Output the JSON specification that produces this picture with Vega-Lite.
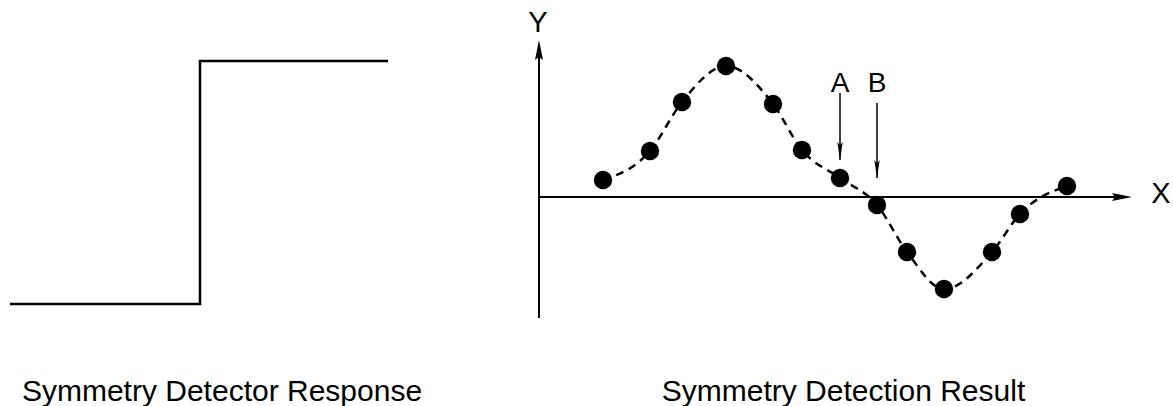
{
  "$schema": "https://vega.github.io/schema/vega-lite/v6.json",
  "padding": 0,
  "spacing": 60,
  "bounds": "flush",
  "background": "white",
  "config": {
    "view": {"stroke": null},
    "font": "Liberation Sans",
    "title": {"font": "Liberation Sans", "fontSize": 30, "fontWeight": "normal", "color": "black"}
  },
  "datasets": {
    "response": [
      {"step": 1, "position": 0.25, "response": 0},
      {"step": 2, "position": 5, "response": 0},
      {"step": 3, "position": 5, "response": 1},
      {"step": 4, "position": 9.7, "response": 1}
    ],
    "result": [
      {"x": 1.6, "y": 0.425},
      {"x": 2.775, "y": 1.15},
      {"x": 3.575, "y": 2.375},
      {"x": 4.675, "y": 3.275},
      {"x": 5.85, "y": 2.325},
      {"x": 6.575, "y": 1.175},
      {"x": 7.525, "y": 0.475},
      {"x": 8.45, "y": -0.2},
      {"x": 9.2, "y": -1.375},
      {"x": 10.125, "y": -2.3},
      {"x": 11.325, "y": -1.375},
      {"x": 12.025, "y": -0.425},
      {"x": 13.2, "y": 0.275}
    ],
    "markers": [
      {"label": "A", "x": 7.525, "y_label": 2.625, "y_top": 2.6, "y_tip": 0.925},
      {"label": "B", "x": 8.45, "y_label": 2.625, "y_top": 2.35, "y_tip": 0.475}
    ],
    "single": [{}]
  },
  "hconcat": [
    {
      "width": 440,
      "height": 340,
      "title": {"text": "Symmetry Detector Response", "orient": "bottom", "anchor": "middle", "baseline": "alphabetic", "offset": 61, "dx": 2},
      "data": {"name": "response"},
      "mark": {"type": "line", "color": "black", "strokeWidth": 2.5},
      "encoding": {
        "x": {"field": "position", "type": "quantitative", "scale": {"domain": [0, 11], "nice": false, "zero": false}, "axis": null},
        "y": {"field": "response", "type": "quantitative", "scale": {"domain": [-0.148, 1.251], "nice": false, "zero": false}, "axis": null},
        "order": {"field": "step"}
      }
    },
    {
      "width": 673,
      "height": 340,
      "title": {"text": "Symmetry Detection Result", "orient": "bottom", "anchor": "middle", "baseline": "alphabetic", "offset": 61, "dx": 7},
      "layer": [
        {
          "data": {"name": "result"},
          "mark": {"type": "line", "color": "black", "strokeWidth": 2.5, "strokeDash": [8, 6], "interpolate": "monotone"},
          "encoding": {
            "x": {"field": "x", "type": "quantitative", "scale": {"domain": [-0.975, 15.85], "nice": false, "zero": false}, "axis": null},
            "y": {"field": "y", "type": "quantitative", "scale": {"domain": [-3.575, 4.925], "nice": false, "zero": false}, "axis": null}
          }
        },
        {
          "data": {"name": "single"},
          "mark": {"type": "rule", "color": "black", "strokeWidth": 2},
          "encoding": {
            "x": {"datum": 0, "type": "quantitative"},
            "y": {"datum": -3.025, "type": "quantitative"},
            "y2": {"datum": 3.75}
          }
        },
        {
          "data": {"name": "single"},
          "mark": {"type": "rule", "color": "black", "strokeWidth": 2},
          "encoding": {
            "x": {"datum": 0, "type": "quantitative"},
            "x2": {"datum": 14.6},
            "y": {"datum": 0, "type": "quantitative"}
          }
        },
        {
          "data": {"name": "single"},
          "mark": {"type": "point", "shape": "M0,-1L0.4,1L0,0.7L-0.4,1Z", "size": 400, "filled": true, "color": "black", "opacity": 1},
          "encoding": {
            "x": {"datum": 0, "type": "quantitative"},
            "y": {"datum": 3.675, "type": "quantitative"}
          }
        },
        {
          "data": {"name": "single"},
          "mark": {"type": "point", "shape": "M1,0L-1,0.4L-0.7,0L-1,-0.4Z", "size": 400, "filled": true, "color": "black", "opacity": 1},
          "encoding": {
            "x": {"datum": 14.575, "type": "quantitative"},
            "y": {"datum": 0, "type": "quantitative"}
          }
        },
        {
          "data": {"name": "result"},
          "mark": {"type": "circle", "size": 340, "color": "black", "opacity": 1},
          "encoding": {
            "x": {"field": "x", "type": "quantitative"},
            "y": {"field": "y", "type": "quantitative"}
          }
        },
        {
          "data": {"name": "markers"},
          "mark": {"type": "rule", "color": "black", "strokeWidth": 1.5},
          "encoding": {
            "x": {"field": "x", "type": "quantitative"},
            "y": {"field": "y_top", "type": "quantitative"},
            "y2": {"field": "y_tip"}
          }
        },
        {
          "data": {"name": "markers"},
          "mark": {"type": "point", "shape": "M0,1L0.3,-1L0,-0.6L-0.3,-1Z", "size": 324, "filled": true, "color": "black", "opacity": 1, "yOffset": -9},
          "encoding": {
            "x": {"field": "x", "type": "quantitative"},
            "y": {"field": "y_tip", "type": "quantitative"}
          }
        },
        {
          "data": {"name": "markers"},
          "mark": {"type": "text", "fontSize": 28, "color": "black", "align": "center", "baseline": "alphabetic"},
          "encoding": {
            "x": {"field": "x", "type": "quantitative"},
            "y": {"field": "y_label", "type": "quantitative"},
            "text": {"field": "label"}
          }
        },
        {
          "data": {"name": "single"},
          "mark": {"type": "text", "text": "Y", "fontSize": 29, "color": "black", "align": "center", "baseline": "alphabetic"},
          "encoding": {
            "x": {"datum": -0.025, "type": "quantitative"},
            "y": {"datum": 4.125, "type": "quantitative"}
          }
        },
        {
          "data": {"name": "single"},
          "mark": {"type": "text", "text": "X", "fontSize": 29, "color": "black", "align": "center", "baseline": "alphabetic"},
          "encoding": {
            "x": {"datum": 15.55, "type": "quantitative"},
            "y": {"datum": -0.15, "type": "quantitative"}
          }
        }
      ]
    }
  ]
}
